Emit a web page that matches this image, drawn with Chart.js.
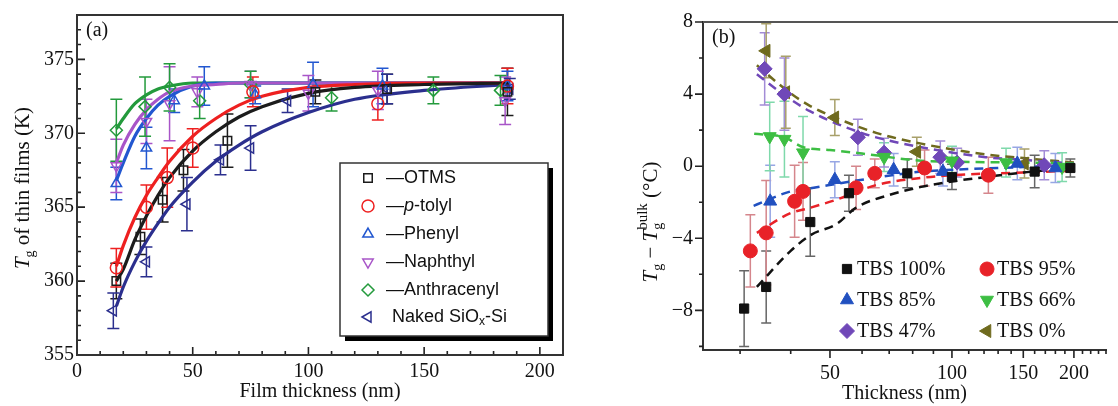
<!DOCTYPE html>
<html>
<head>
<meta charset="utf-8">
<script src="https://cdn.jsdelivr.net/npm/chart.js@4"></script>
<style>
  html, body { margin: 0; padding: 0; background: #fff; }
  #wrap { position: relative; width: 1118px; height: 406px; overflow: hidden; }
  #panelA { position: absolute; left: 0; top: 0; }
  #panelB { position: absolute; left: 600px; top: 0; }
</style>
</head>
<body>
<div id="wrap">
  <canvas id="panelA" width="580" height="406"></canvas>
  <canvas id="panelB" width="518" height="406"></canvas>
</div>
<script>
"use strict";

// ---- panel (a): Tg of thin films vs film thickness ----
var otmsX = [17, 27.4, 37, 46, 65, 103, 134, 186];
var otmsY = [360, 363, 365.5, 367.5, 369.5, 372.8, 373, 372.8];
var otmsErr = [1.2, 1.2, 1.5, 1.4, 1.8, 0.8, 1.0, 1.6];

var tolylX = [17, 30, 39, 50, 76, 130, 186];
var tolylY = [360.9, 365, 367, 369, 372.8, 372, 373.2];
var tolylErr = [1.3, 1.5, 2.0, 1.3, 1.0, 1.1, 1.2];

var phenylX = [17, 30, 42, 55, 77, 102, 132, 186];
var phenylY = [366.6, 369, 372.2, 373.2, 372.6, 373.3, 373.2, 373.2];
var phenylErr = [1.1, 1.4, 0.8, 1.3, 0.6, 1.5, 1.2, 1.0];

var naphX = [17, 30, 40, 52, 75, 100, 130, 185];
var naphY = [367.8, 370.8, 372, 372.8, 373.3, 372.7, 372.9, 372.2];
var naphErr = [1.8, 1.5, 2.5, 1.0, 0.9, 1.2, 1.3, 1.6];

var anthX = [17, 29.4, 40, 53, 75, 110, 154, 183];
var anthY = [370.2, 371.8, 373.1, 372.2, 373.3, 372.4, 372.9, 372.9];
var anthErr = [2.1, 2.0, 1.6, 1.2, 0.9, 0.9, 0.9, 1.0];

var nakedX = [15.7, 30, 47.5, 62, 75, 91, 134, 187];
var nakedY = [358, 361.3, 365.2, 368.2, 369, 372.2, 373, 373];
var nakedErr = [1.2, 1.0, 1.8, 1.0, 1.5, 0.8, 1.0, 0.7];

// fitted curves
var fitXA = [17, 20, 25, 30, 35, 40, 50, 60, 70, 80, 100, 120, 150, 187];
var otmsFit = [360.0, 360.8, 362.8, 364.4, 365.8, 367.0, 368.8, 370.1, 371.1, 371.8, 372.7, 373.1, 373.3, 373.4];
var tolylFit = [361.0, 362.4, 364.3, 365.8, 367.0, 368.1, 369.8, 371.0, 371.9, 372.5, 373.1, 373.3, 373.4, 373.4];
var phenylFit = [366.8, 368.0, 369.8, 371.0, 371.9, 372.5, 373.2, 373.4, 373.4, 373.4, 373.4, 373.4, 373.4, 373.4];
var naphFit = [368.0, 369.2, 370.6, 371.6, 372.3, 372.8, 373.2, 373.3, 373.4, 373.4, 373.4, 373.4, 373.4, 373.4];
var anthFit = [370.3, 371.0, 372.0, 372.6, 373.0, 373.2, 373.4, 373.4, 373.4, 373.4, 373.4, 373.4, 373.4, 373.4];
var nakedFit = [358.3, 359.6, 361.3, 362.7, 363.9, 365.0, 366.7, 368.1, 369.2, 370.1, 371.4, 372.3, 372.9, 373.3];

var seriesNamesA = ["\u2014OTMS", "\u2014p-tolyl", "\u2014Phenyl", "\u2014Naphthyl", "\u2014Anthracenyl", "Naked SiOx-Si"];
var xTicksA = [0, 10, 20, 30, 40, 50, 60, 70, 80, 90, 100, 110, 120, 130, 140, 150, 160, 170, 180, 190, 200, 210];
var yTicksA = [355, 356, 357, 358, 359, 360, 361, 362, 363, 364, 365, 366, 367, 368, 369, 370, 371, 372, 373, 374, 375, 376, 377, 378];

// ---- panel (b): Tg - Tg(bulk) vs thickness ----
var tbs100X = [30.7, 34.8, 44.7, 55.7, 77.6, 100, 160, 196];
var tbs100Y = [-7.9, -6.7, -3.1, -1.5, -0.4, -0.6, -0.3, -0.1];
var tbs100Err = [2.1, 2.0, 1.9, 1.0, 0.8, 0.7, 0.9, 0.5];

var tbs95X = [31.8, 34.8, 40.9, 42.9, 58, 64.5, 85.6, 123];
var tbs95Y = [-4.7, -3.7, -1.95, -1.4, -1.2, -0.4, -0.1, -0.5];
var tbs95Err = [2.0, 2.9, 2.0, 1.6, 1.2, 0.8, 1.0, 1.0];

var tbs85X = [35.6, 51.4, 71.8, 95, 145, 180];
var tbs85Y = [-1.95, -0.75, -0.2, -0.3, 0.15, -0.1];
var tbs85Err = [2.0, 1.0, 0.9, 0.8, 0.9, 0.8];

var tbs66X = [35.5, 38.6, 42.9, 68, 100, 136, 187];
var tbs66Y = [1.65, 1.5, 0.75, 0.5, 0.3, 0.2, -0.05];
var tbs66Err = [1.9, 2.1, 2.0, 0.8, 0.8, 0.8, 0.8];

var tbs47X = [34.5, 38.6, 58.6, 68, 93.6, 103, 169];
var tbs47Y = [5.4, 4.0, 1.6, 0.75, 0.5, 0.2, 0.05];
var tbs47Err = [2.0, 2.0, 1.0, 0.8, 0.9, 0.8, 0.8];

var tbs0X = [34.8, 38.9, 51.4, 81.9, 151];
var tbs0Y = [6.4, 4.1, 2.7, 0.8, 0.15];
var tbs0Err = [1.5, 2.0, 1.0, 0.8, 0.8];

var fit100X = [33, 40, 45, 52, 58, 70, 84, 100, 121, 150, 200];
var fit100Y = [-6.7, -4.7, -3.8, -3.2, -2.3, -1.6, -1.15, -0.85, -0.6, -0.35, -0.1];
var fit95X = [33, 40, 44, 52, 65, 84, 100, 150, 200];
var fit95Y = [-3.7, -2.6, -2.35, -1.85, -1.05, -0.65, -0.5, -0.35, -0.25];
var fit85X = [32.4, 40, 44, 60, 84, 100, 150, 200];
var fit85Y = [-2.2, -1.4, -1.25, -0.75, -0.3, -0.2, -0.05, 0.05];
var fit66X = [32.5, 38.6, 43, 50, 60, 84, 100, 150, 200];
var fit66Y = [1.8, 1.6, 1.05, 0.9, 0.7, 0.3, 0.25, 0.2, 0.15];
var fit47X = [33, 39.4, 44.6, 54.8, 65, 84, 121, 150, 200];
var fit47Y = [5.1, 3.8, 3.05, 2.15, 1.6, 1.05, 0.5, 0.35, 0.15];
var fit0X = [33, 39.4, 44.6, 54.8, 65, 84, 121, 150, 200];
var fit0Y = [5.6, 4.15, 3.35, 2.45, 1.85, 1.25, 0.65, 0.45, 0.2];

var seriesNamesB = ["TBS 100%", "TBS 95%", "TBS 85%", "TBS 66%", "TBS 47%", "TBS 0%"];
var xTicksB = [30, 40, 50, 60, 70, 80, 90, 100, 110, 120, 130, 140, 150, 160, 170, 180, 190, 200, 210, 220, 230, 240];
var xLabelsB = [50, 100, 150, 200];
var yTicksB = [-10, -8, -6, -4, -2, 0, 2, 4, 6, 8];

var SERIF = '"Liberation Serif", "DejaVu Serif", serif';
var SANS = '"Liberation Sans", Arial, sans-serif';

function pts(xs, ys) {
	return xs.map(function(x, i) { return { x: x, y: ys[i] }; });
}

// draws a row of text pieces (italic, sub/superscripts) centred on x,y
function drawRich(ctx, parts, x, y, angle) {
	ctx.save();
	ctx.translate(x, y);
	ctx.rotate(angle || 0);
	ctx.textBaseline = "alphabetic";
	ctx.textAlign = "left";
	var total = 0;
	parts.forEach(function(p) {
		ctx.font = p.font;
		p.w = ctx.measureText(p.t).width;
		if (!p.stay) total += p.w;
	});
	var cx = -total / 2;
	parts.forEach(function(p) {
		ctx.font = p.font;
		ctx.fillStyle = p.color || "#111";
		ctx.fillText(p.t, cx, 7 + (p.dy || 0));
		if (!p.stay) cx += p.w;
	});
	ctx.restore();
}

function drawRichLeft(ctx, parts, x, y) {
	ctx.save();
	ctx.textBaseline = "middle";
	ctx.textAlign = "left";
	var cx = x;
	parts.forEach(function(p) {
		ctx.font = p.font;
		ctx.fillStyle = "#111";
		ctx.fillText(p.t, cx, y + (p.dy || 0));
		cx += ctx.measureText(p.t).width;
	});
	ctx.restore();
}

var errorBars = {
	id: "errorBars",
	beforeDatasetsDraw: function(chart) {
		var ctx = chart.ctx, xs = chart.scales.x, ys = chart.scales.y;
		ctx.save();
		chart.data.datasets.forEach(function(ds) {
			if (!ds.errs) return;
			ctx.strokeStyle = ds.errColor || ds.borderColor;
			ctx.lineWidth = ds.errWidth || 1.5;
			ds.data.forEach(function(p, j) {
				var px = xs.getPixelForValue(p.x);
				var y1 = ys.getPixelForValue(p.y + ds.errs[j]);
				var y2 = ys.getPixelForValue(p.y - ds.errs[j]);
				var c = ds.capHalf || 6;
				ctx.beginPath();
				ctx.moveTo(px, y1); ctx.lineTo(px, y2);
				ctx.moveTo(px - c, y1); ctx.lineTo(px + c, y1);
				ctx.moveTo(px - c, y2); ctx.lineTo(px + c, y2);
				ctx.stroke();
			});
		});
		ctx.restore();
	}
};

// major/minor tick marks drawn by hand (inward for (a), outward for (b))
function tickMarks(inward) {
	return {
		id: "tickMarks",
		afterDraw: function(chart) {
			var ctx = chart.ctx, a = chart.chartArea;
			var dir = inward ? 1 : -1;
			ctx.save();
			ctx.strokeStyle = "#222";
			ctx.lineWidth = 1.6;
			ctx.beginPath();
			chart.scales.x.ticks.forEach(function(t) {
				var px = chart.scales.x.getPixelForValue(t.value);
				var len = t.label !== "" ? 8 : 4;
				ctx.moveTo(px, a.bottom); ctx.lineTo(px, a.bottom - dir * len);
			});
			chart.scales.y.ticks.forEach(function(t) {
				var py = chart.scales.y.getPixelForValue(t.value);
				var len = t.label !== "" ? 8 : 4;
				ctx.moveTo(a.left, py); ctx.lineTo(a.left + dir * len, py);
			});
			ctx.stroke();
			ctx.restore();
		}
	};
}

var panelADecor = {
	id: "panelADecor",
	afterDraw: function(chart) {
		var ctx = chart.ctx, a = chart.chartArea;
		ctx.save();
		ctx.strokeStyle = "#333";
		ctx.lineWidth = 2;
		ctx.strokeRect(a.left, a.top, a.right - a.left, a.bottom - a.top);

		ctx.font = "20px " + SERIF;
		ctx.fillStyle = "#111";
		ctx.textBaseline = "middle";
		ctx.fillText("(a)", 86, 31);

		drawRich(ctx, [
			{ t: "T", font: "italic 21px " + SERIF },
			{ t: "g", font: "14px " + SERIF, dy: 5 },
			{ t: " of thin films (K)", font: "21px " + SERIF }
		], 22, 188, -Math.PI / 2);

		// legend box with drop shadow
		var bx = 340, by = 163, bw = 208, bh = 173;
		ctx.fillStyle = "#000";
		ctx.fillRect(bx + 5, by + 5, bw, bh);
		ctx.fillStyle = "#fff";
		ctx.fillRect(bx, by, bw, bh);
		ctx.lineWidth = 1.5;
		ctx.strokeStyle = "#333";
		ctx.strokeRect(bx, by, bw, bh);

		var rows = [178, 206, 234, 262, 290, 317];
		chart.data.datasets.filter(function(d) { return d.errs; }).forEach(function(ds, i) {
			ctx.strokeStyle = ds.borderColor;
			ctx.fillStyle = "rgba(0,0,0,0)";
			ctx.lineWidth = 1.5;
			Chart.helpers.drawPoint(ctx, {
				pointStyle: ds.pointStyle, radius: 6, rotation: ds.rotation || 0, borderWidth: 1.5
			}, 368, rows[i]);
			var name = seriesNamesA[i];
			if (name.indexOf("p-") >= 0) {
				drawRichLeft(ctx, [
					{ t: "\u2014", font: "18px " + SANS },
					{ t: "p", font: "italic 18px " + SANS },
					{ t: name.slice(2), font: "18px " + SANS }
				], 386, rows[i]);
			} else if (name.indexOf("SiOx") >= 0) {
				drawRichLeft(ctx, [
					{ t: "Naked SiO", font: "18px " + SANS },
					{ t: "x", font: "12px " + SANS, dy: 5 },
					{ t: "-Si", font: "18px " + SANS }
				], 392, rows[i]);
			} else {
				drawRichLeft(ctx, [{ t: name, font: "18px " + SANS }], 386, rows[i]);
			}
		});
		ctx.restore();
	}
};

var panelBDecor = {
	id: "panelBDecor",
	afterDraw: function(chart) {
		var ctx = chart.ctx, a = chart.chartArea;
		ctx.save();
		ctx.strokeStyle = "#555";
		ctx.lineWidth = 2;
		ctx.beginPath();
		ctx.moveTo(a.left, a.top); ctx.lineTo(chart.width, a.top);
		ctx.stroke();

		ctx.font = "20px " + SERIF;
		ctx.fillStyle = "#111";
		ctx.textBaseline = "middle";
		ctx.fillText("(b)", 112, 38);

		drawRich(ctx, [
			{ t: "T", font: "italic 21px " + SERIF },
			{ t: "g", font: "14px " + SERIF, dy: 5 },
			{ t: " \u2212 ", font: "21px " + SERIF },
			{ t: "T", font: "italic 21px " + SERIF },
			{ t: "g", font: "14px " + SERIF, dy: 5, stay: true },
			{ t: "bulk", font: "15px " + SERIF, dy: -10 },
			{ t: " (\u00b0C)", font: "21px " + SERIF }
		], 50, 222, -Math.PI / 2);

		var cols = [247, 387];
		var rows = [269, 300, 331];
		chart.data.datasets.filter(function(d) { return d.errs; }).forEach(function(ds, i) {
			var mx = cols[i % 2], my = rows[Math.floor(i / 2)];
			ctx.fillStyle = ds.backgroundColor;
			ctx.strokeStyle = ds.backgroundColor;
			ctx.lineWidth = 1;
			Chart.helpers.drawPoint(ctx, {
				pointStyle: ds.pointStyle, radius: ds.pointRadius, rotation: ds.rotation || 0, borderWidth: 1
			}, mx, my);
			ctx.fillStyle = "#111";
			ctx.font = "20px " + SERIF;
			ctx.textBaseline = "middle";
			ctx.fillText(seriesNamesB[i], mx + 10, my + 1);
		});
		ctx.restore();
	}
};

function pointSet(label, xs, ys, errs, color, style, rot) {
	return {
		label: label, data: pts(xs, ys), errs: errs, showLine: false,
		borderColor: color, backgroundColor: "rgba(0,0,0,0)",
		pointStyle: style, rotation: rot || 0, pointRadius: 6, pointBorderWidth: 1.5,
		capHalf: 6, order: 1
	};
}

function fitSet(label, ys, color) {
	return {
		label: label, data: pts(fitXA, ys), showLine: true, borderColor: color, borderWidth: 3.2,
		pointRadius: 0, cubicInterpolationMode: "monotone", fill: false, order: 2
	};
}

var colA = {
	otms: "#1c1c1c", tolyl: "#ee2020", phenyl: "#2257d0",
	naph: "#a855c8", anth: "#239a3c", naked: "#2b2f8e"
};

new Chart(document.getElementById("panelA"), {
	type: "scatter",
	data: {
		datasets: [
			pointSet("OTMS", otmsX, otmsY, otmsErr, colA.otms, "rect"),
			pointSet("p-tolyl", tolylX, tolylY, tolylErr, colA.tolyl, "circle"),
			pointSet("Phenyl", phenylX, phenylY, phenylErr, colA.phenyl, "triangle"),
			pointSet("Naphthyl", naphX, naphY, naphErr, colA.naph, "triangle", 180),
			pointSet("Anthracenyl", anthX, anthY, anthErr, colA.anth, "rectRot"),
			pointSet("Naked", nakedX, nakedY, nakedErr, colA.naked, "triangle", -90),
			fitSet("OTMS fit", otmsFit, colA.otms),
			fitSet("p-tolyl fit", tolylFit, colA.tolyl),
			fitSet("Naked fit", nakedFit, colA.naked),
			fitSet("Naphthyl fit", naphFit, colA.naph),
			fitSet("Phenyl fit", phenylFit, colA.phenyl),
			fitSet("Anthracenyl fit", anthFit, colA.anth)
		]
	},
	options: {
		responsive: false,
		animation: false,
		layout: { padding: { left: 0, top: 15, right: 17, bottom: 0 } },
		plugins: { legend: { display: false }, tooltip: { enabled: false } },
		scales: {
			x: {
				type: "linear", min: 0, max: 210,
				afterBuildTicks: function(s) { s.ticks = xTicksA.map(function(v) { return { value: v }; }); },
				afterFit: function(s) { s.height = 51; },
				ticks: {
					autoSkip: false, maxRotation: 0, padding: 5, color: "#111",
					font: { family: SERIF, size: 20 },
					callback: function(v) { return v % 50 === 0 && v <= 200 ? String(v) : ""; }
				},
				grid: { display: false, drawTicks: false },
				border: { color: "#333", width: 2 },
				title: { display: true, text: "Film thickness (nm)", color: "#111",
					font: { family: SERIF, size: 20 }, padding: { top: 0, bottom: 2 } }
			},
			y: {
				min: 355, max: 378,
				afterBuildTicks: function(s) { s.ticks = yTicksA.map(function(v) { return { value: v }; }); },
				afterFit: function(s) { s.width = 77; },
				ticks: {
					autoSkip: false, padding: 3, color: "#111",
					font: { family: SERIF, size: 20 },
					callback: function(v) { return v % 5 === 0 ? String(v) : ""; }
				},
				grid: { display: false, drawTicks: false },
				border: { color: "#333", width: 2 }
			}
		}
	},
	plugins: [errorBars, tickMarks(true), panelADecor]
});

// ---- panel (b) ----
function pointSetB(label, xs, ys, errs, color, errColor, style, rot, r) {
	return {
		label: label, data: pts(xs, ys), errs: errs, errColor: errColor, errWidth: 1.5,
		showLine: false, borderColor: color, backgroundColor: color,
		pointStyle: style, rotation: rot || 0, pointRadius: r || 7, pointBorderWidth: 1,
		capHalf: 5, order: 1
	};
}

function fitSetB(label, xs, ys, color) {
	return {
		label: label, data: pts(xs, ys), showLine: true, borderColor: color, borderWidth: 2.5,
		borderDash: [9, 6], pointRadius: 0, cubicInterpolationMode: "monotone", fill: false, order: 2
	};
}

var colB = {
	t100: "#111111", t95: "#e82228", t85: "#2150c0",
	t66: "#3dbe43", t47: "#7048b8", t0: "#6f6a1e"
};

new Chart(document.getElementById("panelB"), {
	type: "scatter",
	data: {
		datasets: [
			pointSetB("TBS 100%", tbs100X, tbs100Y, tbs100Err, colB.t100, "#666666", "rect", 0, 6.5),
			pointSetB("TBS 95%", tbs95X, tbs95Y, tbs95Err, colB.t95, "#d5868c", "circle", 0, 7),
			pointSetB("TBS 85%", tbs85X, tbs85Y, tbs85Err, colB.t85, "#97a6e4", "triangle", 0, 7.5),
			pointSetB("TBS 66%", tbs66X, tbs66Y, tbs66Err, colB.t66, "#7fd9ab", "triangle", 180, 7.5),
			pointSetB("TBS 47%", tbs47X, tbs47Y, tbs47Err, colB.t47, "#a38cd6", "rectRot", 0, 7.5),
			pointSetB("TBS 0%", tbs0X, tbs0Y, tbs0Err, colB.t0, "#a8a06a", "triangle", -90, 7.5),
			fitSetB("100 fit", fit100X, fit100Y, colB.t100),
			fitSetB("95 fit", fit95X, fit95Y, colB.t95),
			fitSetB("85 fit", fit85X, fit85Y, colB.t85),
			fitSetB("66 fit", fit66X, fit66Y, colB.t66),
			fitSetB("47 fit", fit47X, fit47Y, colB.t47),
			fitSetB("0 fit", fit0X, fit0Y, colB.t0)
		]
	},
	options: {
		responsive: false,
		animation: false,
		layout: { padding: { left: 0, top: 21, right: 1, bottom: 0 } },
		plugins: { legend: { display: false }, tooltip: { enabled: false } },
		scales: {
			x: {
				type: "logarithmic", min: 24.3, max: 240,
				afterBuildTicks: function(s) { s.ticks = xTicksB.map(function(v) { return { value: v }; }); },
				afterFit: function(s) { s.height = 56; },
				ticks: {
					autoSkip: false, maxRotation: 0, padding: 12, color: "#111",
					font: { family: SERIF, size: 20 },
					callback: function(v) { return xLabelsB.indexOf(v) >= 0 ? String(v) : ""; }
				},
				grid: { display: false, drawTicks: false },
				border: { color: "#333", width: 2 },
				title: { display: true, text: "Thickness (nm)", color: "#111",
					font: { family: SERIF, size: 20 }, padding: { top: 0, bottom: 0 } }
			},
			y: {
				min: -10.2, max: 8,
				afterBuildTicks: function(s) { s.ticks = yTicksB.map(function(v) { return { value: v }; }); },
				afterFit: function(s) { s.width = 103; },
				ticks: {
					autoSkip: false, padding: 10, color: "#111",
					font: { family: SERIF, size: 20 },
					callback: function(v) { return v % 4 === 0 ? String(v).replace("-", "\u2212") : ""; }
				},
				grid: { display: false, drawTicks: false },
				border: { color: "#333", width: 2 }
			}
		}
	},
	plugins: [errorBars, tickMarks(false), panelBDecor]
});
</script>
</body>
</html>
